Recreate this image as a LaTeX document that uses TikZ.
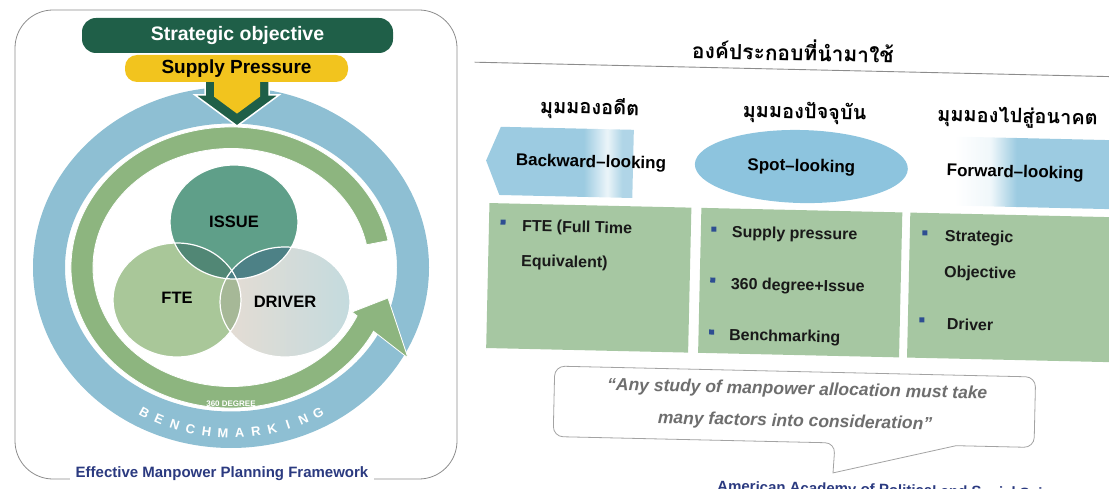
\documentclass[tikz,border=0pt]{standalone}
\usepackage{fontspec}
\setmainfont{Liberation Sans}
\newfontfamily\thaifont[Script=Thai]{Loma}
\usetikzlibrary{positioning}
\newcommand{\fsz}[1]{\fontsize{#1}{#1}\selectfont}
\definecolor{deepgreen}{HTML}{1F5F48}
\definecolor{sunyellow}{HTML}{F2C41E}
\definecolor{ringblue}{HTML}{8EBFD3}
\definecolor{ringgreen}{HTML}{8DB57F}
\definecolor{issuegreen}{HTML}{5F9F89}
\definecolor{ftegreen}{HTML}{A9C799}
\definecolor{drvA}{HTML}{E6DCD3}
\definecolor{drvB}{HTML}{C4DBDE}
\definecolor{sage}{HTML}{A6C7A2}
\definecolor{skyblue}{HTML}{9CCBE1}
\definecolor{spotblue}{HTML}{8DC4DE}
\definecolor{navy}{HTML}{2B3A80}
\definecolor{bulletblue}{HTML}{2E4E92}
\definecolor{quotegray}{HTML}{6E6E6E}
\definecolor{framegray}{HTML}{8C8C8C}
\pgfdeclarehorizontalshading{bwdfade}{100bp}{color(0bp)=(skyblue); color(25bp)=(skyblue); color(58bp)=(skyblue); color(66bp)=(white!80!skyblue); color(71bp)=(skyblue!80!white); color(100bp)=(skyblue!80!white)}
\pgfdeclarehorizontalshading{fwdfade}{100bp}{color(0bp)=(white); color(25bp)=(white); color(36bp)=(white!85!skyblue); color(44bp)=(skyblue); color(100bp)=(skyblue)}

\begin{document}
\begin{tikzpicture}[x=1pt, y=1pt,
  bar/.style={rounded corners=14pt, inner sep=0pt},
  lbl/.style={text=black, inner sep=0pt},
  gbox/.style={fill=sage, inner sep=0pt, minimum width=202pt, minimum height=145pt},
  bul/.style={fill=bulletblue, minimum size=5pt, inner sep=0pt},
  itm/.style={anchor=west, inner sep=0pt, text=black!90, font=\bfseries\fsz{16}},
  thai/.style={inner sep=0pt, font=\thaifont\bfseries\fsz{20}},
  ]
\useasboundingbox (0,0) rectangle (1109,-489);
\clip (0,0) rectangle (1109,-489);

% left panel: frame and caption
\draw[framegray, line width=.8pt, rounded corners=38pt] (15,-10) rectangle (457,-479);
\path (222,-474) node[fill=white, inner xsep=6pt, inner ysep=1pt, text=navy, font=\bfseries\fsz{15}](caption){Effective Manpower Planning Framework};

% rings
\fill[ringblue, even odd rule] (231,-267.5) ellipse[x radius=198, y radius=180.5] (231,-267.5) ellipse[x radius=166, y radius=144];
\begin{scope}[shift={(231,-267.5)}]
\fill[ringgreen, draw=white, line width=.8pt] (11:160 and 140.5) arc[start angle=11, end angle=333, x radius=160, y radius=140.5]
  -- (177,-90.5) -- (157,-30.5) -- (121,-44.5) -- (336:138 and 119)
  arc[start angle=336, end angle=11, x radius=138, y radius=119] -- cycle;
\foreach \ch [count=\i] in {B,E,N,C,H,M,A,R,K,I,N,G}
  \path ({241.5+(\i-1)*5.2}:186 and 170) node[rotate={241.5+(\i-1)*5.2-270}, anchor=base, text=white, font=\bfseries\fsz{13}](bm\i){\ch};
\path (0,-136) node[text=white, inner sep=0pt, font=\bfseries\fsz{8}](deg){360 DEGREE};
\end{scope}

% three circles
\fill[ftegreen] (177,-300) ellipse[x radius=64, y radius=57];
\shade[left color=drvA, right color=drvB] (285,-302) ellipse[x radius=65, y radius=55];
\fill[issuegreen] (234,-222) ellipse[x radius=64, y radius=57];
\begin{scope}
\clip (177,-300) ellipse[x radius=64, y radius=57];
\fill[ftegreen!75!drvA!90!black] (285,-302) ellipse[x radius=65, y radius=55];
\fill[issuegreen!85!black] (234,-222) ellipse[x radius=64, y radius=57];
\end{scope}
\begin{scope}
\clip (285,-302) ellipse[x radius=65, y radius=55];
\fill[issuegreen!90!blue!90!black] (234,-222) ellipse[x radius=64, y radius=57];
\end{scope}
\draw[white, line width=1.2pt] (177,-300) ellipse[x radius=64, y radius=57]
  (285,-302) ellipse[x radius=65, y radius=55] (234,-222) ellipse[x radius=64, y radius=57];
\path (234,-222) node[lbl, font=\bfseries\fsz{16.5}](issue){ISSUE};
\path (177,-298) node[lbl, font=\bfseries\fsz{16.5}](fte){FTE};
\path (285,-302) node[lbl, font=\bfseries\fsz{16.5}](driver){DRIVER};

% chevron and bars
\filldraw[fill=deepgreen, draw=white, line width=1.5pt] (205,-78) -- (205,-95) -- (195,-95) -- (237,-126) -- (279,-95) -- (269,-95) -- (269,-78) -- cycle;
\fill[sunyellow] (214,-76) -- (214,-96.6) -- (237,-113.6) -- (260,-96.6) -- (260,-76) -- cycle;
\path (237.5,-35.5) node[bar, fill=deepgreen, text=white, minimum width=311pt, minimum height=35pt, font=\bfseries\fsz{19.5}](strat){Strategic objective};
\path (236.5,-68.5) node[bar, rounded corners=12pt, fill=sunyellow, text=black, minimum width=223pt, minimum height=27pt, font=\bfseries\fsz{19}](supply){Supply Pressure};

% right panel
\begin{scope}[rotate around={-1.3:(795,-270)}, transform shape]
\path (788,-50) node[inner sep=0pt, font=\thaifont\bfseries\fsz{21}](title){องค์ประกอบที่นำมาใช้};
\draw[framegray, line width=.9pt] (470,-69.5) coordinate(rl) -- (1120,-69.5) coordinate(rr);

\path (586,-113) node[thai](hpast){มุมมองอดีต};
\path (801,-113) node[thai](hnow){มุมมองปัจจุบัน};
\path (1014,-113) node[thai](hfut){มุมมองไปสู่อนาคต};

\shade[shading=bwdfade] (483.7,-167.5) -- (497.7,-133.5) -- (630.7,-133.5) -- (630.7,-201.7) -- (497.7,-201.7) -- cycle;
\path (588.6,-167.6) node[lbl, font=\bfseries\fsz{17}](bwd){Backward--looking};
\fill[spotblue] (799,-166.4) ellipse[x radius=106.5, y radius=36.5];
\path (799,-167) node[lbl, font=\bfseries\fsz{17}](spot){Spot--looking};
\shade[shading=fwdfade] (953,-133) rectangle (1115,-202);
\path (1013,-168) node[lbl, font=\bfseries\fsz{17}](fwd){Forward--looking};

\path (589,-282.5) node[gbox](box1){};
\path (800.5,-282.5) node[gbox, minimum width=201pt](box2){};
\path (1010.5,-282.5) node[gbox, minimum width=203pt](box3){};

\path (502,-228.7) node[bul](b11){};
\path (521,-233.2) node[itm](t11){FTE (Full Time};
\path (521,-268.2) node[itm](t12){Equivalent)};

\path (713,-231) node[bul](b21){};
\path (731,-234.5) node[itm](t21){Supply pressure};
\path (713,-281.9) node[bul](b22){};
\path (731,-286.5) node[itm](t22){360 degree+Issue};
\path (713,-333.9) node[bul](b23){};
\path (730.5,-337.5) node[itm](t23){Benchmarking};

\path (924,-230) node[bul](b31){};
\path (944,-233.6) node[itm](t31){Strategic};
\path (944,-269.6) node[itm](t32){Objective};
\path (923,-317) node[bul](b32){};
\path (948,-320.5) node[itm](t33){Driver};

% quote bubble
\draw[framegray!80, line width=.8pt, fill=white] (960,-442) [rounded corners=10pt] -- (1038,-442) -- (1038,-371.5) -- (557,-371.5) -- (557,-442) -- (839,-442) [sharp corners] -- (837.6,-472) -- cycle;
\path (800,-390) node[inner sep=0pt, text=quotegray, font=\bfseries\itshape\fsz{17.5}](q1){“Any study of manpower allocation must take};
\path (798.5,-422) node[inner sep=0pt, text=quotegray, font=\bfseries\itshape\fsz{17.5}](q2){many factors into consideration”};

\path (722,-481.8) node[anchor=north west, inner sep=0pt, text=navy, font=\bfseries\fsz{15}](source){American Academy of Political and Social Science};
\end{scope}
\end{tikzpicture}
\end{document}
